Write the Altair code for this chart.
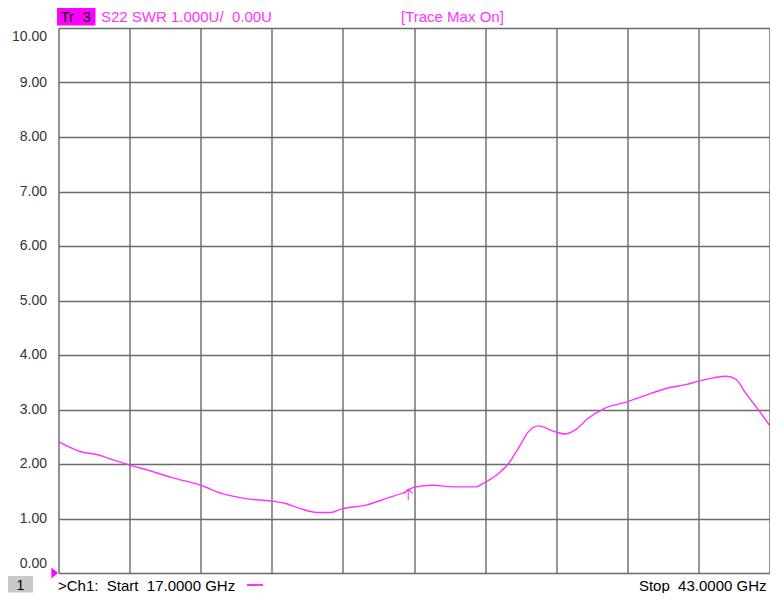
import altair as alt
import pandas as pd

# ---- data ----
freq_ghz = [17.0, 17.78, 18.50, 18.86, 19.55, 20.31, 21.15, 22.20, 22.96, 23.93,
            24.77, 25.27, 25.85, 26.47, 26.94, 27.38, 28.28, 29.00, 29.73, 29.98,
            30.71, 31.43, 32.26, 32.55, 33.10, 33.46, 33.82, 34.18, 34.54, 35.16,
            35.52, 35.88, 36.35, 36.97, 37.80, 38.41, 39.25, 39.97, 40.48, 40.95,
            41.42, 41.78, 42.14, 42.51, 43.0]
swr = [2.41, 2.23, 2.16, 2.10, 1.99, 1.88, 1.75, 1.61, 1.46, 1.36,
       1.32, 1.28, 1.18, 1.11, 1.11, 1.18, 1.25, 1.37, 1.50, 1.57,
       1.61, 1.58, 1.58, 1.65, 1.83, 2.01, 2.29, 2.59, 2.70, 2.59,
       2.55, 2.62, 2.83, 3.02, 3.14, 3.25, 3.39, 3.46, 3.53, 3.58,
       3.61, 3.55, 3.29, 3.05, 2.71]
x_ticks = [17.0, 19.6, 22.2, 24.8, 27.4, 30.0, 32.6, 35.2, 37.8, 40.4, 43.0]
y_ticks = [0, 1, 2, 3, 4, 5, 6, 7, 8, 9, 10]
marker_freq = [29.79]
marker_swr = [1.54]

tr_label = ["Tr\u00a0\u00a03"]
header_label = ["S22 SWR 1.000U/\u00a0\u00a00.00U"]
state_label = ["[Trace Max On]"]
ch_num = ["1"]
start_label = [">Ch1:\u00a0\u00a0Start\u00a0\u00a017.0000 GHz"]
stop_label = ["Stop\u00a0\u00a043.0000 GHz"]

MAG = "#ff33ff"
FONT = "Liberation Sans"
GRID = "#6a6a6a"
W, H = 711, 545

df = pd.DataFrame({"f": freq_ghz, "swr": swr})

xs = alt.Scale(domain=[17, 43], nice=False, zero=False)
ys = alt.Scale(domain=[0, 10], nice=False)

label_offset = {
    "condition": [
        {"test": "datum.value == 10", "value": 8.5},
        {"test": "datum.value == 0", "value": -9.5},
    ],
    "value": -0.5,
}

trace = alt.Chart(df).mark_line(color=MAG, strokeWidth=1.4, interpolate="monotone").encode(
    x=alt.X("f:Q", scale=xs,
            axis=alt.Axis(values=x_ticks, grid=True, labels=False, ticks=False, domain=False,
                          title=None, gridColor=GRID, gridWidth=1.4, gridOpacity=1)),
    y=alt.Y("swr:Q", scale=ys,
            axis=alt.Axis(values=y_ticks, grid=True, ticks=False, domain=False, title=None,
                          format=".2f", labelFont=FONT, labelFontSize=14, labelColor="#333333",
                          labelPadding=12, labelBaseline="middle", labelOffset=label_offset,
                          gridColor=GRID, gridWidth=1.4, gridOpacity=1)),
)

mk = pd.DataFrame({"f": marker_freq, "swr": marker_swr})
marker = alt.Chart(mk).mark_point(
    shape="M0,-1L0,1M-0.8,-0.15L0,-1L0.8,-0.15", filled=False, color=MAG,
    strokeWidth=1.1, size=121, opacity=1, yOffset=5.5
).encode(x=alt.X("f:Q", scale=xs), y=alt.Y("swr:Q", scale=ys))

ref = alt.Chart(pd.DataFrame({"v": [0]})).mark_point(
    shape="M-0.6,-1L0.6,0L-0.6,1Z", filled=True, color="#ff00ff", size=121, opacity=1
).encode(x=alt.value(-3.8), y=alt.Y("v:Q", scale=ys))

def txt(label, x, y, color, size=15, align="left"):
    return alt.Chart(pd.DataFrame({"t": label})).mark_text(
        align=align, baseline="alphabetic", font=FONT, fontSize=size, color=color
    ).encode(text="t:N", x=alt.value(x), y=alt.value(y))

def box(x, x2, y, y2, color):
    return alt.Chart(pd.DataFrame({"k": [0]})).mark_rect(color=color, opacity=1).encode(
        x=alt.value(x), x2=alt.value(x2), y=alt.value(y), y2=alt.value(y2))

tr_box = box(-1.5, 37, -20, -2.5, "#ff00ff")
ch_box = box(-50.5, -25.5, 548, 564.5, "#c8c8c8")
leg_line = alt.Chart(pd.DataFrame({"k": [0]})).mark_rule(color="#ff00ff", strokeWidth=1.6).encode(
    x=alt.value(188.5), x2=alt.value(204.5), y=alt.value(557))

chart = alt.layer(
    trace,
    marker,
    ref,
    tr_box,
    txt(tr_label, 2, -6, "#000000"),
    txt(header_label, 42.5, -6, MAG),
    txt(state_label, 342.5, -6, MAG),
    ch_box,
    txt(ch_num, -38, 562, "#000000", size=14, align="center"),
    txt(start_label, -0.5, 562.5, "#000000"),
    leg_line,
    txt(stop_label, 708, 562.5, "#000000", align="right"),
).properties(
    width=W, height=H,
    autosize=alt.AutoSizeParams(type="none"),
    padding={"left": 50.5, "top": 20, "right": 0.5, "bottom": 20},
).configure_view(stroke=None).configure(background="#ffffff")

chart.save("out.html", embed_options={"renderer": "svg", "actions": False})
